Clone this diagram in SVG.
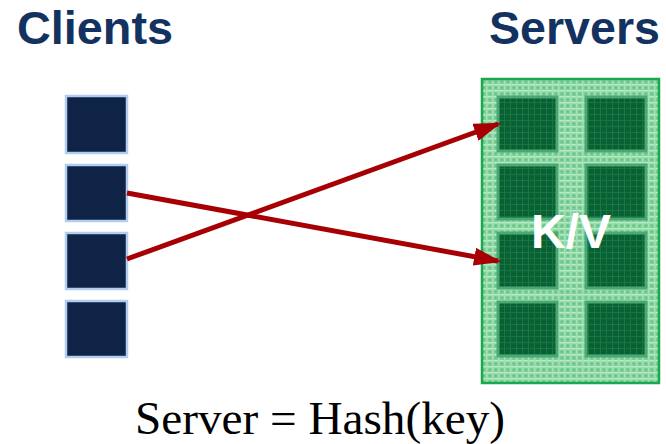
<svg xmlns="http://www.w3.org/2000/svg" width="666" height="444" viewBox="0 0 666 444">
<defs>
<style>
.title{font-family:"Liberation Sans",Arial,sans-serif;font-weight:bold;font-size:46px;fill:#14325f}
.client{fill:#0f2346;stroke:#b3cdf0;stroke-width:2.5}
.conn{stroke:#a60005;stroke-width:5;fill:none;marker-end:url(#ah)}
</style>
<pattern id="mesh" width="6" height="6" patternUnits="userSpaceOnUse">
<rect width="6" height="6" fill="#7fd098"/>
<rect x="0" y="0" width="6" height="1.5" fill="#b9ebc8"/>
<rect x="0" y="0" width="1.5" height="6" fill="#a3e2b6"/>
<rect x="3" y="3" width="1.5" height="1.5" fill="#5fbd80"/>
</pattern>
<pattern id="wmesh" width="6" height="6" patternUnits="userSpaceOnUse">
<rect width="6" height="6" fill="#0a5f35"/>
<rect x="0" y="0" width="6" height="1" fill="#177544"/>
<rect x="0" y="0" width="1" height="6" fill="#137a40"/>
</pattern>
<marker id="ah" markerWidth="5.5" markerHeight="3.6" refX="4.8" refY="1.8" orient="auto" markerUnits="strokeWidth">
<path d="M0,0 L5.5,1.8 L0,3.6 Z" fill="#a60005"/>
</marker>
</defs>
<rect width="666" height="444" fill="#ffffff"/>
<text class="title" x="17" y="44" textLength="156" lengthAdjust="spacingAndGlyphs">Clients</text>
<text class="title" x="489" y="44" textLength="171" lengthAdjust="spacingAndGlyphs">Servers</text>
<g id="client1"><rect class="client" x="66" y="96" width="61" height="57"/></g>
<g id="client2"><rect class="client" x="66" y="165" width="61" height="56"/></g>
<g id="client3"><rect class="client" x="66" y="233" width="61" height="56"/></g>
<g id="client4"><rect class="client" x="66" y="301" width="61" height="56"/></g>
<g id="server">
<rect x="482" y="79" width="177" height="304" fill="url(#mesh)" stroke="#19a84c" stroke-width="2.5"/>
<g fill="url(#wmesh)" stroke="#4aa872" stroke-width="3">
<rect x="498" y="97" width="59" height="54"/>
<rect x="586" y="97" width="60" height="54"/>
<rect x="498" y="165" width="59" height="54"/>
<rect x="586" y="165" width="60" height="54"/>
<rect x="498" y="233" width="59" height="55"/>
<rect x="586" y="233" width="60" height="55"/>
<rect x="498" y="302" width="59" height="54"/>
<rect x="586" y="302" width="60" height="54"/>
</g>
<text x="571" y="248" text-anchor="middle" font-family="'Liberation Sans',Arial,sans-serif" font-weight="bold" font-size="48" fill="#ffffff">K/V</text>
</g>
<g id="connectors">
<line class="conn" x1="127" y1="193" x2="498" y2="261"/>
<line class="conn" x1="127" y1="259" x2="498" y2="124"/>
</g>
<text x="135" y="434" font-family="'Liberation Serif','Times New Roman',serif" font-size="46" fill="#000000" textLength="370" lengthAdjust="spacingAndGlyphs">Server = Hash(key)</text>
</svg>
